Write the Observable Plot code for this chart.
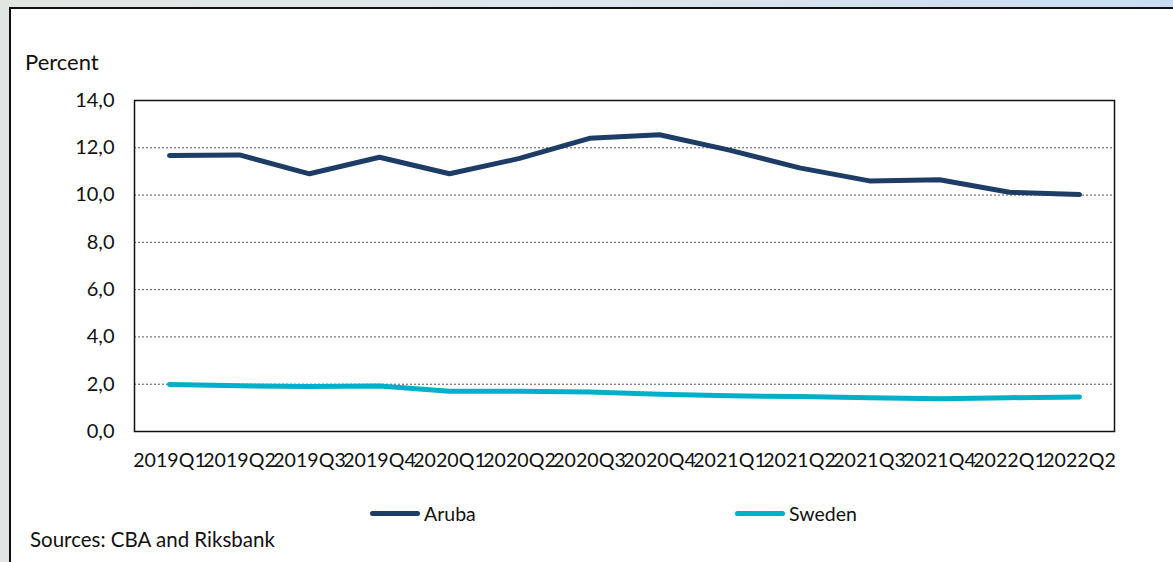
<!DOCTYPE html>
<html>
<head>
<meta charset="utf-8">
<script src="https://cdn.jsdelivr.net/npm/d3@7"></script>
<script src="https://cdn.jsdelivr.net/npm/@observablehq/plot@0.6"></script>
<style>
  html, body { margin: 0; padding: 0; }
  body {
    width: 1173px; height: 562px; overflow: hidden; position: relative;
    background: linear-gradient(to right, #e2e6e2 0%, #dde5ec 50%, #c9ddf2 100%);
    font-family: Lato, "Open Sans", sans-serif;
  }
  #panel {
    position: absolute; left: 9px; top: 7px; width: 1180px; height: 570px;
    background: #fff; border-left: 2px solid #111; border-top: 2px solid #111;
    box-sizing: border-box;
  }
  #chart { position: absolute; left: 0; top: 80px; }
  .ylab { position: absolute; left: 25px; top: 48px; font-size: 22px; color: #111; }
  .legend { position: absolute; top: 502px; font-size: 19.5px; color: #111; display: flex; align-items: center; }
  .legend .sw { width: 50px; height: 5px; border-radius: 3px; margin-right: 4px; }
  .source { position: absolute; left: 30px; top: 527px; font-size: 20.5px; color: #111; }
</style>
</head>
<body>
<div id="panel"></div>
<div class="ylab">Percent</div>
<div id="chart"></div>
<div class="legend" style="left:370px"><span class="sw" style="background:#1d3d66"></span>Aruba</div>
<div class="legend" style="left:735px"><span class="sw" style="background:#00b0c8"></span>Sweden</div>
<div class="source">Sources: CBA and Riksbank</div>
<script>
// Quarterly periods
const quarters = ["2019Q1","2019Q2","2019Q3","2019Q4","2020Q1","2020Q2","2020Q3","2020Q4",
                  "2021Q1","2021Q2","2021Q3","2021Q4","2022Q1","2022Q2"];
// Series values, percent
const aruba  = [11.67, 11.70, 10.90, 11.60, 10.90, 11.55, 12.40, 12.55, 11.90, 11.15, 10.60, 10.65, 10.12, 10.02];
const sweden = [1.99, 1.93, 1.90, 1.92, 1.70, 1.70, 1.67, 1.58, 1.51, 1.48, 1.43, 1.38, 1.43, 1.46];
const yTicks = [0, 2, 4, 6, 8, 10, 12, 14];
const gridTicks = [2, 4, 6, 8, 10, 12];

const seriesColors = { Aruba: "#1d3d66", Sweden: "#00b0c8" };
const rows = [
  ...quarters.map((q, i) => ({ q, v: aruba[i], s: "Aruba" })),
  ...quarters.map((q, i) => ({ q, v: sweden[i], s: "Sweden" }))
];
const fmt = d => d.toFixed(1).replace(".", ",");

const chart = Plot.plot({
  width: 1173,
  height: 400,
  marginLeft: 134,
  marginRight: 59,
  marginTop: 20,
  marginBottom: 49,
  style: { fontFamily: "Lato, 'Open Sans', sans-serif", fontSize: "19px", color: "#111", background: "transparent" },
  x: { type: "point", domain: quarters, padding: 0.5, label: null },
  y: { domain: [0, 14], label: null },
  marks: [
    Plot.ruleY(gridTicks, { stroke: "#555", strokeWidth: 1, strokeDasharray: "2,2" }),
    Plot.axisY(yTicks, { tickSize: 0, tickPadding: 20, tickFormat: fmt, fontSize: 20, label: null }),
    Plot.axisX({ tickSize: 0, tickPadding: 22, fontSize: 19.6, label: null }),
    Plot.line(rows, { x: "q", y: "v", z: "s", stroke: d => seriesColors[d.s], strokeWidth: 5, strokeLinecap: "round", strokeLinejoin: "round" }),
    Plot.frame({ stroke: "#111", strokeWidth: 1.5 })
  ]
});
document.getElementById("chart").appendChild(chart);
</script>
</body>
</html>
